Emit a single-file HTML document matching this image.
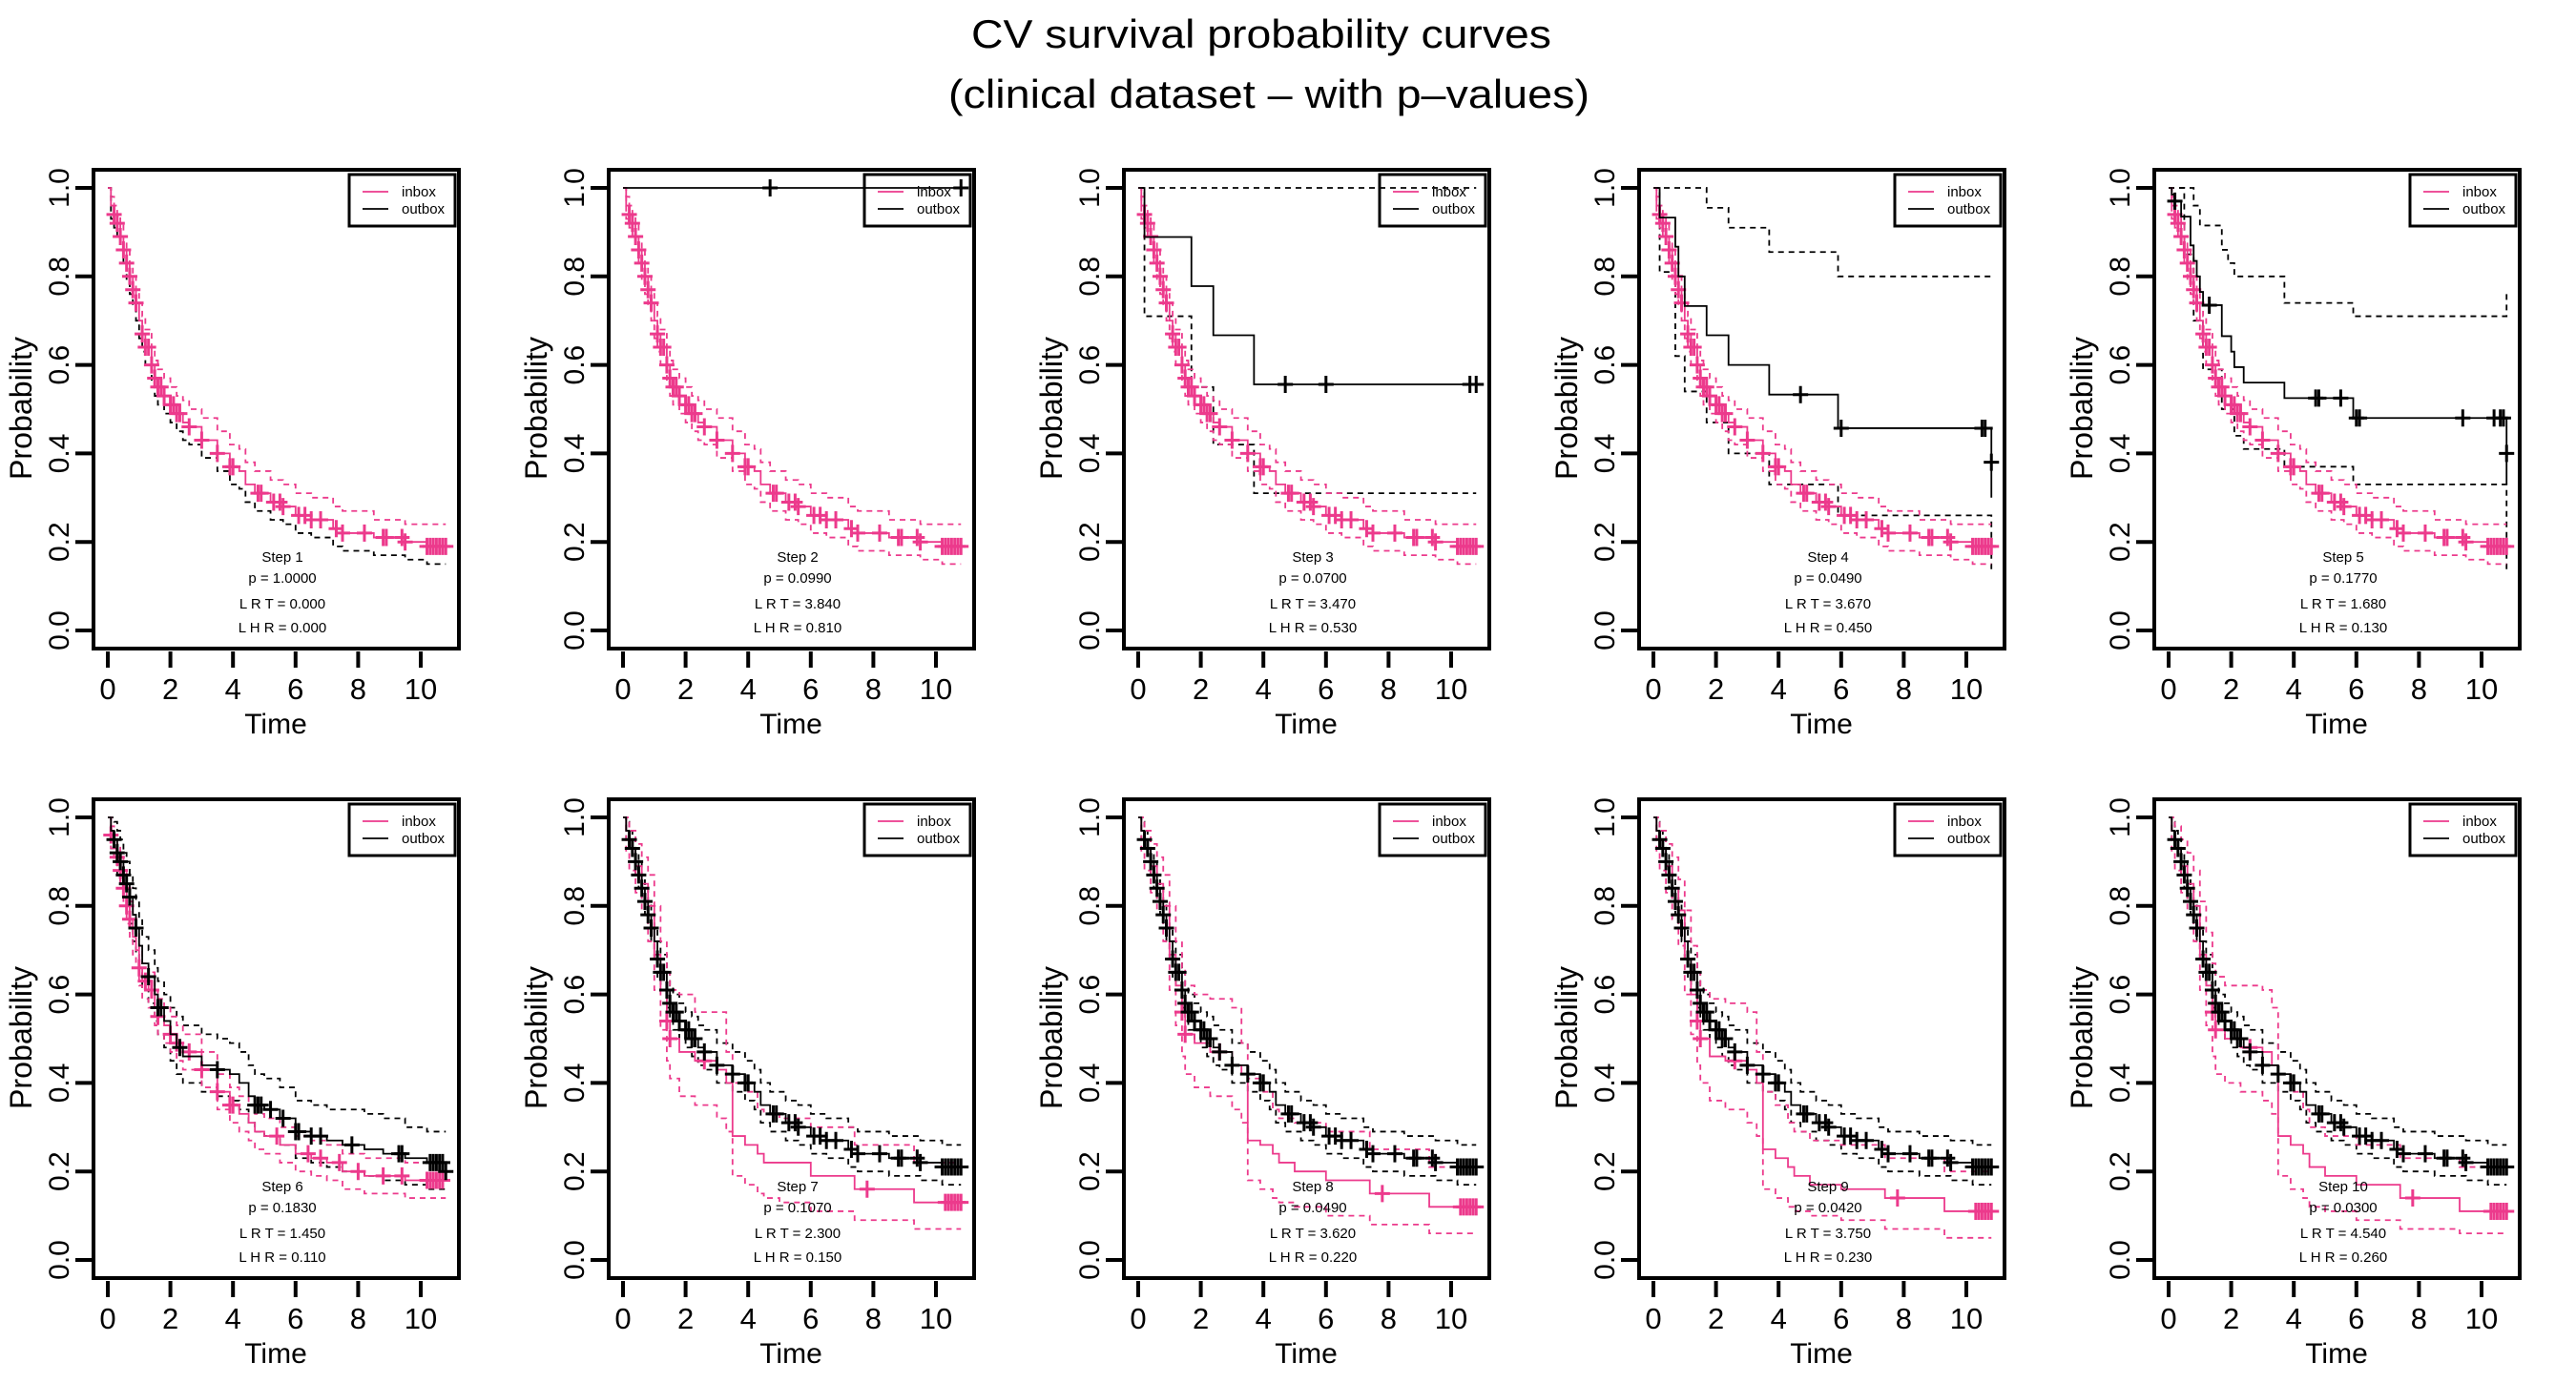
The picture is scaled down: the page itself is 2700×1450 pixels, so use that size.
<!DOCTYPE html>
<html><head><meta charset="utf-8">
<style>
html,body{margin:0;padding:0;background:#fff;}
svg{display:block;font-family:"Liberation Sans",sans-serif;}
</style></head>
<body>
<svg id="chart" width="2700" height="1450" viewBox="0 0 2700 1450" xmlns="http://www.w3.org/2000/svg">
<text x="1322" y="50" text-anchor="middle" font-size="42" textLength="608" lengthAdjust="spacingAndGlyphs">CV survival probability curves</text>
<text x="1330" y="113" text-anchor="middle" font-size="42" textLength="672" lengthAdjust="spacingAndGlyphs">(clinical dataset – with p–values)</text>
<g id="panels"></g>
</svg>
<script>
// ---- shared inbox curve (steps 1-5) ----
const inT=[0,0.1,0.2,0.3,0.4,0.5,0.6,0.7,0.8,0.9,1.0,1.1,1.2,1.4,1.5,1.6,1.8,2.0,2.2,2.4,2.6,3.0,3.5,3.9,4.2,4.4,4.7,5.2,5.6,6.0,6.5,7.2,7.5,8.5,9.5,10.2];
const inS=[1,0.96,0.94,0.92,0.89,0.86,0.83,0.80,0.77,0.74,0.70,0.67,0.64,0.60,0.57,0.55,0.53,0.51,0.49,0.47,0.46,0.43,0.40,0.37,0.36,0.33,0.31,0.29,0.28,0.26,0.25,0.23,0.22,0.21,0.20,0.19];
const inUp=[1,0.98,0.96,0.94,0.92,0.89,0.86,0.83,0.80,0.77,0.74,0.71,0.68,0.64,0.61,0.59,0.57,0.55,0.53,0.52,0.50,0.48,0.45,0.42,0.41,0.38,0.36,0.34,0.33,0.31,0.30,0.28,0.27,0.25,0.24,0.24];
const inLo=[1,0.93,0.91,0.89,0.86,0.83,0.79,0.76,0.73,0.70,0.66,0.63,0.60,0.56,0.53,0.51,0.49,0.47,0.45,0.43,0.42,0.39,0.36,0.33,0.32,0.29,0.27,0.25,0.24,0.22,0.21,0.19,0.18,0.17,0.16,0.15];
const inCens=[0.2,0.3,0.4,0.5,0.6,0.7,0.8,0.9,1.1,1.2,1.3,1.4,1.5,1.6,1.7,1.8,2.0,2.1,2.2,2.3,2.6,3.0,3.5,3.9,4.0,4.8,4.9,5.3,5.5,5.6,6.1,6.3,6.5,6.8,7.3,7.5,8.2,8.8,8.9,9.4,9.5,10.2,10.3,10.4,10.5,10.6,10.7,10.8];
// ---- step 2 outbox ----
const o2T=[0]; const o2S=[1]; const o2C=[4.7,10.8];
// ---- step 3 outbox ----
const o3T=[0,0.2,1.7,2.4,3.7]; const o3S=[1,0.889,0.778,0.667,0.556];
const o3Up=[1,1,1,1,1]; const o3Lo=[1,0.71,0.55,0.42,0.31]; const o3C=[4.7,6.0,10.6,10.8];
// ---- step 4 outbox ----
const o4T=[0,0.2,0.7,0.8,1.0,1.7,2.4,3.7,5.9,10.8]; const o4S=[1,0.933,0.867,0.8,0.733,0.667,0.6,0.533,0.457,0.30];
const o4UpT=[0,1.7,2.4,3.7,5.9]; const o4Up=[1,0.955,0.91,0.855,0.80];
const o4LoT=[0,0.2,0.7,1.0,1.7,2.4,3.7,5.9,10.8]; const o4Lo=[1,0.81,0.62,0.54,0.47,0.40,0.33,0.26,0.13];
const o4C=[4.7,6.0,10.5,10.6]; const o4Cy=[0.38];
// ---- step 5 outbox ----
const o5T=[0,0.1,0.2,0.4,0.7,0.8,0.9,1.0,1.1,1.7,2.0,2.1,2.4,3.7,5.9,10.8]; const o5S=[1,0.985,0.97,0.935,0.87,0.835,0.80,0.765,0.735,0.665,0.63,0.595,0.56,0.525,0.48,0.33];
const o5UpT=[0,0.8,1.0,1.7,1.9,2.1,3.7,5.9,10.8]; const o5Up=[1,0.96,0.915,0.86,0.83,0.80,0.74,0.71,0.77];
const o5LoT=[0,0.5,0.8,1.1,1.7,2.1,2.4,3.7,5.9,10.8]; const o5Lo=[1,0.85,0.70,0.59,0.50,0.44,0.41,0.37,0.33,0.13];
const o5C=[0.2,1.3,4.7,4.8,5.5,6.0,6.1,9.4,10.4,10.6,10.7];
// ---- step 6 ----
const t6=[0,0.1,0.2,0.3,0.4,0.5,0.6,0.7,0.8,0.9,1.0,1.1,1.3,1.5,1.6,1.8,2.0,2.2,2.4,3.0,3.5,3.9,4.2,4.5,4.7,5.0,5.5,6.0,6.5,7.0,7.5,8.2,8.8,9.5,10.2];
const o6S=[1,0.97,0.95,0.92,0.90,0.87,0.85,0.82,0.78,0.75,0.71,0.67,0.64,0.60,0.57,0.54,0.51,0.48,0.46,0.44,0.43,0.42,0.40,0.37,0.35,0.34,0.32,0.29,0.28,0.27,0.26,0.25,0.24,0.23,0.22];
const o6Up=[1,1,0.99,0.97,0.95,0.92,0.90,0.87,0.84,0.81,0.77,0.73,0.70,0.66,0.63,0.60,0.57,0.55,0.53,0.51,0.50,0.49,0.47,0.44,0.42,0.41,0.39,0.36,0.35,0.34,0.34,0.33,0.32,0.30,0.29];
const o6Lo=[1,0.93,0.90,0.87,0.85,0.82,0.79,0.76,0.72,0.69,0.65,0.61,0.58,0.54,0.51,0.48,0.45,0.42,0.40,0.38,0.37,0.36,0.34,0.31,0.29,0.28,0.26,0.23,0.22,0.21,0.20,0.19,0.18,0.17,0.16];
const i6S=[1,0.96,0.93,0.91,0.88,0.84,0.80,0.77,0.73,0.70,0.66,0.63,0.61,0.57,0.55,0.53,0.51,0.49,0.47,0.43,0.38,0.35,0.33,0.31,0.29,0.28,0.26,0.24,0.23,0.22,0.20,0.19,0.19,0.18,0.18];
const i6Up=[1,0.98,0.96,0.94,0.91,0.88,0.84,0.81,0.77,0.74,0.70,0.67,0.65,0.61,0.59,0.57,0.55,0.53,0.51,0.47,0.42,0.39,0.37,0.35,0.33,0.32,0.30,0.28,0.27,0.26,0.24,0.23,0.23,0.22,0.22];
const i6Lo=[1,0.93,0.90,0.88,0.84,0.80,0.76,0.73,0.69,0.66,0.62,0.59,0.57,0.53,0.51,0.49,0.47,0.45,0.43,0.39,0.34,0.31,0.29,0.27,0.25,0.24,0.22,0.20,0.19,0.18,0.16,0.15,0.15,0.14,0.14];
const o6C=[0.2,0.3,0.4,0.5,0.6,0.7,0.9,1.3,1.6,1.7,2.3,3.5,4.7,4.8,4.9,5.2,5.6,6.0,6.1,6.5,6.8,7.8,9.3,9.4,10.3,10.4,10.5,10.6,10.7];
const i6C=[0.1,0.3,0.4,0.5,0.6,0.7,1.0,1.2,1.4,1.6,2.0,2.2,2.6,3.0,3.5,3.9,4.0,5.4,6.4,6.8,7.4,8.0,8.8,9.4,10.2,10.3,10.4,10.5,10.6,10.7];
// ---- steps 7-10 outbox (large group) ----
const obS=[1,0.97,0.95,0.93,0.90,0.87,0.84,0.81,0.78,0.75,0.72,0.68,0.65,0.61,0.58,0.56,0.54,0.52,0.50,0.48,0.47,0.44,0.42,0.40,0.38,0.35,0.33,0.31,0.30,0.28,0.27,0.25,0.24,0.23,0.22,0.21];
const obUp=[1,0.99,0.97,0.95,0.93,0.90,0.87,0.84,0.81,0.78,0.75,0.72,0.69,0.65,0.62,0.60,0.58,0.56,0.55,0.53,0.52,0.49,0.47,0.45,0.43,0.40,0.38,0.36,0.35,0.33,0.32,0.30,0.29,0.28,0.27,0.26];
const obLo=[1,0.95,0.93,0.91,0.87,0.84,0.81,0.78,0.75,0.72,0.68,0.64,0.61,0.57,0.54,0.52,0.50,0.48,0.46,0.44,0.43,0.40,0.38,0.36,0.34,0.31,0.29,0.27,0.26,0.24,0.23,0.21,0.20,0.19,0.18,0.17];
// ---- steps 7-10 inbox (small group) ----
const pT=[0,0.1,0.2,0.4,0.6,0.8,1.0,1.2,1.4,1.5,1.8,2.3,3.0,3.3,3.5,3.9,4.3,4.5,5.0,6.0,7.4,9.3];
const p7S=[1,0.97,0.93,0.89,0.85,0.80,0.69,0.61,0.54,0.50,0.47,0.45,0.43,0.40,0.28,0.26,0.24,0.22,0.22,0.19,0.16,0.13];
const p7Up=[1,1,0.97,0.94,0.91,0.87,0.80,0.72,0.65,0.61,0.60,0.56,0.56,0.47,0.40,0.38,0.34,0.33,0.32,0.30,0.26,0.22];
const p7Lo=[1,0.92,0.88,0.83,0.78,0.72,0.61,0.52,0.45,0.41,0.37,0.35,0.32,0.29,0.19,0.17,0.15,0.14,0.13,0.11,0.09,0.07];
const p8S=[1,0.97,0.93,0.89,0.85,0.80,0.69,0.62,0.56,0.51,0.49,0.47,0.44,0.42,0.27,0.26,0.24,0.22,0.20,0.18,0.15,0.12];
const p8Up=[1,1,0.97,0.94,0.91,0.87,0.80,0.72,0.66,0.62,0.60,0.59,0.57,0.49,0.41,0.38,0.34,0.32,0.31,0.29,0.25,0.21];
const p8Lo=[1,0.92,0.88,0.83,0.78,0.72,0.61,0.53,0.46,0.42,0.39,0.37,0.34,0.31,0.18,0.16,0.14,0.13,0.12,0.10,0.08,0.06];
const p9S=[1,0.97,0.93,0.89,0.84,0.79,0.68,0.60,0.54,0.50,0.46,0.45,0.43,0.40,0.25,0.23,0.21,0.19,0.17,0.16,0.14,0.11];
const p9Up=[1,1,0.97,0.94,0.91,0.86,0.79,0.71,0.65,0.61,0.59,0.58,0.56,0.47,0.38,0.35,0.31,0.29,0.27,0.26,0.23,0.20];
const p9Lo=[1,0.92,0.88,0.83,0.77,0.71,0.60,0.51,0.44,0.40,0.36,0.34,0.31,0.28,0.16,0.14,0.12,0.11,0.10,0.09,0.07,0.05];
const p10S=[1,0.97,0.93,0.89,0.85,0.80,0.69,0.62,0.56,0.52,0.50,0.48,0.47,0.44,0.28,0.26,0.24,0.21,0.19,0.17,0.14,0.11];
const p10Up=[1,1,0.98,0.95,0.92,0.88,0.81,0.74,0.67,0.64,0.62,0.62,0.61,0.57,0.42,0.38,0.34,0.30,0.28,0.26,0.23,0.21];
const p10Lo=[1,0.92,0.88,0.83,0.78,0.72,0.61,0.53,0.46,0.42,0.40,0.38,0.36,0.33,0.19,0.16,0.14,0.12,0.11,0.09,0.07,0.06];
const pC=[1.4,1.5,2.6,7.8,10.3,10.4,10.5,10.6,10.7,10.8];
// ---- annotations ----
const steps=["Step 1","Step 2","Step 3","Step 4","Step 5","Step 6","Step 7","Step 8","Step 9","Step 10"];
const pvals=["1.0000","0.0990","0.0700","0.0490","0.1770","0.1830","0.1070","0.0490","0.0420","0.0300"];
const lrts=["0.000","3.840","3.470","3.670","1.680","1.450","2.300","3.620","3.750","4.540"];
const lhrs=["0.000","0.810","0.530","0.450","0.130","0.110","0.150","0.220","0.230","0.260"];
const xTicks=[0,2,4,6,8,10];
const yTicks=[0,0.2,0.4,0.6,0.8,1.0];

const PINK="#ec3a8c", END=10.8;
const inb={T:inT,S:inS,up:[inT,inUp],lo:[inT,inLo],c:inCens};
const panels=[
 {inb:inb, ob:null, loBlack:true},
 {inb:inb, ob:{T:o2T,S:o2S,c:o2C}},
 {inb:inb, ob:{T:o3T,S:o3S,up:[o3T,o3Up],lo:[o3T,o3Lo],c:o3C}},
 {inb:inb, ob:{T:o4T,S:o4S,up:[o4UpT,o4Up],lo:[o4LoT,o4Lo],c:o4C,cEnd:o4Cy}},
 {inb:inb, ob:{T:o5T,S:o5S,up:[o5UpT,o5Up],lo:[o5LoT,o5Lo],c:o5C,cEnd:[0.40]}},
 {inb:{T:t6,S:i6S,up:[t6,i6Up],lo:[t6,i6Lo],c:i6C}, ob:{T:t6,S:o6S,up:[t6,o6Up],lo:[t6,o6Lo],c:o6C,cEnd:[0.20]}},
 {inb:{T:pT,S:p7S,up:[pT,p7Up],lo:[pT,p7Lo],c:pC}, ob:{T:inT,S:obS,up:[inT,obUp],lo:[inT,obLo],c:inCens}},
 {inb:{T:pT,S:p8S,up:[pT,p8Up],lo:[pT,p8Lo],c:pC}, ob:{T:inT,S:obS,up:[inT,obUp],lo:[inT,obLo],c:inCens}},
 {inb:{T:pT,S:p9S,up:[pT,p9Up],lo:[pT,p9Lo],c:pC}, ob:{T:inT,S:obS,up:[inT,obUp],lo:[inT,obLo],c:inCens}},
 {inb:{T:pT,S:p10S,up:[pT,p10Up],lo:[pT,p10Lo],c:pC}, ob:{T:inT,S:obS,up:[inT,obUp],lo:[inT,obLo],c:inCens}}
];

const NS="http://www.w3.org/2000/svg";
const root=document.getElementById("panels");
function mk(tag,attrs,parent){const e=document.createElementNS(NS,tag);for(const k in attrs)e.setAttribute(k,attrs[k]);parent.appendChild(e);return e;}
function stepAt(T,S,t){let v=S[0];for(let i=0;i<T.length;i++){if(T[i]<=t)v=S[i];}return v;}

panels.forEach((p,idx)=>{
  const col=idx%5,row=Math.floor(idx/5);
  const L=98+540*col, R=L+383, TOP=178+660*row, BOT=680+660*row;
  const x=t=>L+15+32.8*t;
  const y=v=>661+660*row-464*v;
  const g=mk("g",{},root);
  
  
  function step(T,S,color,dash,w,name){
    let d="M"+x(T[0])+" "+y(S[0]);
    for(let i=1;i<T.length;i++){d+=" H"+x(T[i])+" V"+y(S[i]);}
    d+=" H"+x(END);
    const e=mk("path",{d:d,fill:"none",stroke:color,"stroke-width":w},g);
    if(dash)e.setAttribute("stroke-dasharray","6,5");
    
    
  }
  function cens(T,S,list,color,name){
    list.forEach(t=>{
      const cx=x(t),cy=y(stepAt(T,S,t));
      const e=mk("path",{d:`M${cx-8} ${cy}H${cx+8}M${cx} ${cy-9}V${cy+9}`,stroke:color,"stroke-width":3,fill:"none"},g);
      
      
    });
  }
  function crossAt(t,v,color,name){
    const cx=x(t),cy=y(v);
    const e=mk("path",{d:`M${cx-8} ${cy}H${cx+8}M${cx} ${cy-9}V${cy+9}`,stroke:color,"stroke-width":3,fill:"none"},g);
    
    
  }
  if(p.ob&&p.ob.up){step(p.ob.up[0],p.ob.up[1],"#000",true,1.8,"outbox-ci-upper");}
  if(p.ob&&p.ob.lo){step(p.ob.lo[0],p.ob.lo[1],"#000",true,1.8,"outbox-ci-lower");}
  const ib=p.inb;
  step(ib.up[0],ib.up[1],PINK,true,1.8,"inbox-ci-upper");
  step(ib.lo[0],ib.lo[1],p.loBlack?"#000":PINK,true,1.8,"inbox-ci-lower");
  step(ib.T,ib.S,PINK,false,1.8,"inbox-curve");
  cens(ib.T,ib.S,ib.c,PINK,"inbox-censor-mark");
  if(p.ob){
    step(p.ob.T,p.ob.S,"#000",false,1.8,"outbox-curve");
    cens(p.ob.T,p.ob.S,p.ob.c,"#000","outbox-censor-mark");
    if(p.ob.cEnd)p.ob.cEnd.forEach(v=>crossAt(END,v,"#000","outbox-censor-mark"));
  }
  const box=mk("rect",{x:L,y:TOP,width:R-L,height:BOT-TOP,fill:"none",stroke:"#000","stroke-width":4},g);
  
  
  xTicks.forEach(t=>{
    const tk=mk("line",{x1:x(t),x2:x(t),y1:BOT+3,y2:BOT+20,stroke:"#000","stroke-width":4},g);
    
    
    const tl=mk("text",{x:x(t),y:BOT+53,"text-anchor":"middle","font-size":31},g);
    tl.textContent=String(t);
    
    
  });
  yTicks.forEach(v=>{
    const tk=mk("line",{x1:L-19,x2:L-2,y1:y(v),y2:y(v),stroke:"#000","stroke-width":4},g);
    
    
    const tl=mk("text",{x:0,y:0,"text-anchor":"middle","font-size":30,transform:`translate(${L-26},${y(v)}) rotate(-90)`},g);
    tl.textContent=v.toFixed(1);
    
    
  });
  const xt=mk("text",{x:L+191,y:TOP+591,"text-anchor":"middle","font-size":30},g);
  xt.textContent="Time";
  
  
  const yt=mk("text",{x:0,y:0,"text-anchor":"middle","font-size":32,textLength:150,lengthAdjust:"spacingAndGlyphs",transform:`translate(${L-65},${TOP+250}) rotate(-90)`},g);
  yt.textContent="Probability";
  
  
  const lines=[steps[idx],"p = "+pvals[idx],"L R T  = "+lrts[idx],"L H R  = "+lhrs[idx]];
  const ys=[411,433,460,485];
  lines.forEach((s,i)=>{
    const a=mk("text",{x:L+198,y:TOP+ys[i],"text-anchor":"middle","font-size":15,"xml:space":"preserve"},g);
    a.textContent=s;
    
    
  });
  const lg=mk("g",{},g);
  
  
  mk("rect",{x:L+268,y:TOP+5,width:111,height:54,fill:"none",stroke:"#000","stroke-width":3},lg);
  const l1=mk("line",{x1:L+282,x2:L+309,y1:TOP+23,y2:TOP+23,stroke:PINK,"stroke-width":1.8},lg);
  
  
  const l2=mk("line",{x1:L+282,x2:L+309,y1:TOP+41,y2:TOP+41,stroke:"#000","stroke-width":1.8},lg);
  
  
  const t1=mk("text",{x:L+323,y:TOP+28,"font-size":15},lg);
  t1.textContent="inbox";
  
  
  const t2=mk("text",{x:L+323,y:TOP+46,"font-size":15},lg);
  t2.textContent="outbox";
  
  
});
</script>
</body></html>
